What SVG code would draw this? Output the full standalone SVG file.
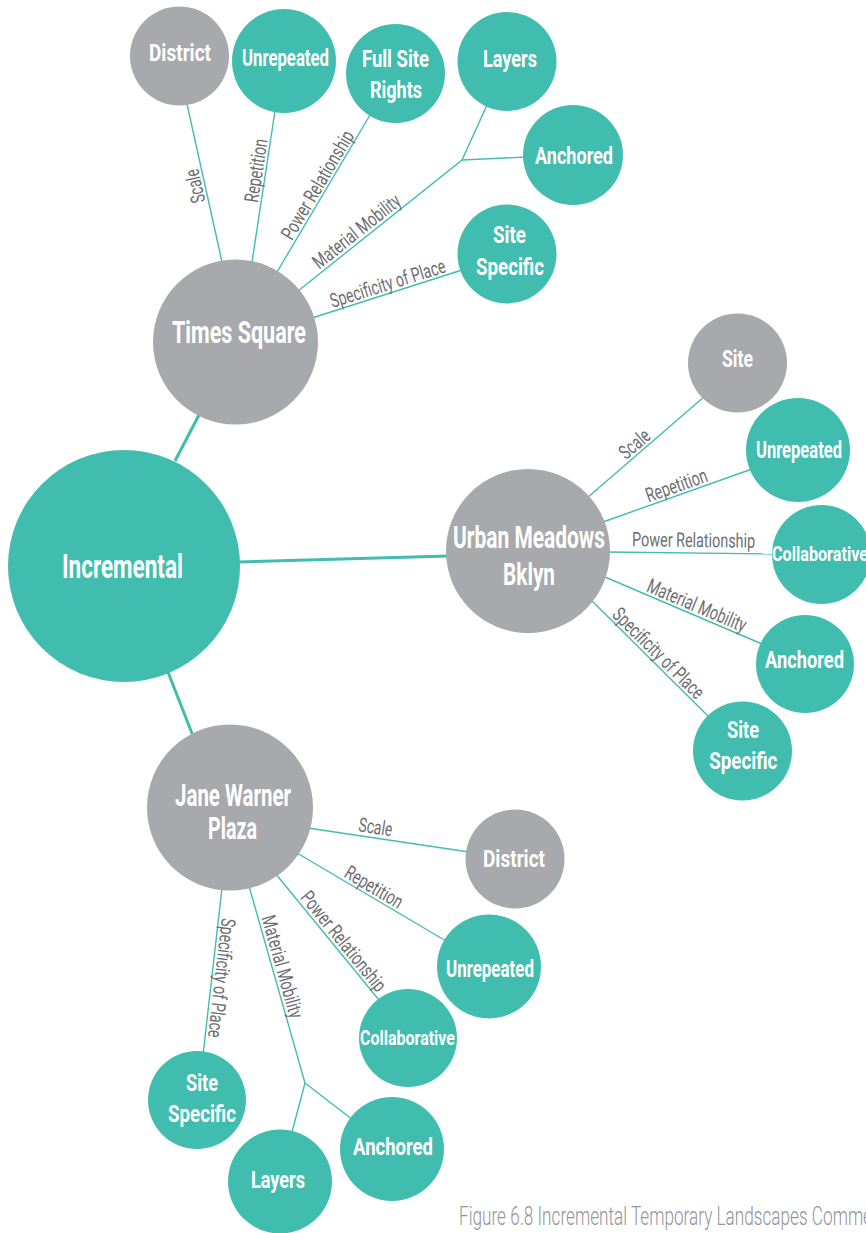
<svg xmlns="http://www.w3.org/2000/svg" width="866" height="1233" viewBox="0 0 866 1233">
<style>
.teal{fill:#41bdb0}
.gray{fill:#a7a9ac}
.ln{stroke:#41bdb0;stroke-width:1.4;fill:none}
.main{stroke:#41bdb0;stroke-width:3;fill:none}
.nt{font-family:Roboto,"Liberation Sans",sans-serif;font-weight:700;fill:#ffffff;text-anchor:middle;font-size:23.5px}
.big{font-size:30.5px}
.lb{font-family:Roboto,"Liberation Sans",sans-serif;font-weight:400;fill:#6d6e71;text-anchor:middle;font-size:20px}
.cap{font-family:Roboto,"Liberation Sans",sans-serif;font-weight:300;fill:#939598;font-size:25px}
</style>
<rect width="866" height="1233" fill="#ffffff"/>
<g id="connectors">
  <line class="main" x1="175" y1="461" x2="200" y2="413"/>
  <line class="main" x1="238" y1="562" x2="448" y2="556"/>
  <line class="main" x1="168" y1="672" x2="193" y2="736"/>
  <line class="ln" x1="222" y1="262" x2="187" y2="104"/>
  <line class="ln" x1="252" y1="262" x2="275" y2="111"/>
  <line class="ln" x1="277" y1="272" x2="370" y2="115"/>
  <polyline class="ln" points="298,291 462,160 487,105"/>
  <line class="ln" x1="462" y1="160" x2="526" y2="157"/>
  <line class="ln" x1="312" y1="318" x2="462" y2="270"/>
  <line class="ln" x1="587" y1="498" x2="705" y2="396"/>
  <line class="ln" x1="603" y1="522" x2="752" y2="469"/>
  <line class="ln" x1="608" y1="552" x2="774" y2="554"/>
  <line class="ln" x1="605" y1="577" x2="762" y2="644"/>
  <line class="ln" x1="591" y1="600" x2="709" y2="717"/>
  <line class="ln" x1="308" y1="828" x2="469" y2="852"/>
  <line class="ln" x1="297" y1="853" x2="446" y2="941"/>
  <line class="ln" x1="275" y1="873" x2="379" y2="1000"/>
  <polyline class="ln" points="249,886 305,1083 292,1132"/>
  <line class="ln" x1="305" y1="1083" x2="353" y2="1120"/>
  <line class="ln" x1="222" y1="888" x2="203" y2="1055"/>
</g>
<g id="labels">
  <text class="lb" transform="translate(204.7,184) rotate(-102.8)" y="-3" textLength="34" lengthAdjust="spacingAndGlyphs">Scale</text>
  <text class="lb" transform="translate(265.8,172) rotate(-81.1)" y="-3" textLength="64" lengthAdjust="spacingAndGlyphs">Repetition</text>
  <text class="lb" transform="translate(326,190) rotate(-59.3)" y="-3" textLength="123" lengthAdjust="spacingAndGlyphs">Power Relationship</text>
  <text class="lb" transform="translate(362.7,239) rotate(-38.5)" y="-3" textLength="106" lengthAdjust="spacingAndGlyphs">Material Mobility</text>
  <text class="lb" transform="translate(390.6,292.9) rotate(-17.5)" y="-3" textLength="120" lengthAdjust="spacingAndGlyphs">Specificity of Place</text>

  <text class="lb" transform="translate(640.9,451.4) rotate(-40.7)" y="-3" textLength="34" lengthAdjust="spacingAndGlyphs">Scale</text>
  <text class="lb" transform="translate(679.7,494.7) rotate(-19.4)" y="-3" textLength="64" lengthAdjust="spacingAndGlyphs">Repetition</text>
  <text class="lb" transform="translate(693.5,553) rotate(0.7)" y="-6" textLength="123" lengthAdjust="spacingAndGlyphs">Power Relationship</text>
  <text class="lb" transform="translate(693,614.5) rotate(23)" y="-3" textLength="106" lengthAdjust="spacingAndGlyphs">Material Mobility</text>
  <text class="lb" transform="translate(651.6,660.2) rotate(44.7)" y="-3" textLength="120" lengthAdjust="spacingAndGlyphs">Specificity of Place</text>

  <text class="lb" transform="translate(373.9,837.8) rotate(8.7)" y="-4" textLength="34" lengthAdjust="spacingAndGlyphs">Scale</text>
  <text class="lb" transform="translate(368.9,895.5) rotate(30.7)" y="-3" textLength="64" lengthAdjust="spacingAndGlyphs">Repetition</text>
  <text class="lb" transform="translate(335.9,947.4) rotate(50.9)" y="-3" textLength="123" lengthAdjust="spacingAndGlyphs">Power Relationship</text>
  <text class="lb" transform="translate(272.9,969.3) rotate(74.2)" y="-3" textLength="106" lengthAdjust="spacingAndGlyphs">Material Mobility</text>
  <text class="lb" transform="translate(211.9,976.9) rotate(96.6)" y="-3" textLength="120" lengthAdjust="spacingAndGlyphs">Specificity of Place</text>
</g>
<g id="incremental">
  <circle class="teal" cx="124" cy="566" r="116"/>
  <text class="nt" x="122.5" y="578" style="font-size:32.5px" textLength="121" lengthAdjust="spacingAndGlyphs">Incremental</text>
</g>
<g id="times-square">
  <circle class="gray" cx="235.5" cy="342" r="82.5"/>
  <text class="nt big" x="239" y="342.7" textLength="134" lengthAdjust="spacingAndGlyphs">Times Square</text>
</g>
<g id="ts-district">
  <circle class="gray" cx="179.5" cy="56" r="49.5"/>
  <text class="nt" x="180" y="60.7" textLength="62" lengthAdjust="spacingAndGlyphs">District</text>
</g>
<g id="ts-unrepeated">
  <circle class="teal" cx="284" cy="61" r="52"/>
  <text class="nt" x="285.5" y="65.7" textLength="87" lengthAdjust="spacingAndGlyphs">Unrepeated</text>
</g>
<g id="ts-full-site-rights">
  <circle class="teal" cx="395.5" cy="73.5" r="49.5"/>
  <text class="nt" x="395.5" y="66.7" textLength="67" lengthAdjust="spacingAndGlyphs">Full Site</text>
  <text class="nt" x="396" y="97.7" textLength="52" lengthAdjust="spacingAndGlyphs">Rights</text>
</g>
<g id="ts-layers">
  <circle class="teal" cx="507" cy="61.5" r="49.5"/>
  <text class="nt" x="510" y="66.7" textLength="54" lengthAdjust="spacingAndGlyphs">Layers</text>
</g>
<g id="ts-anchored">
  <circle class="teal" cx="573" cy="155" r="50"/>
  <text class="nt" x="574" y="163.5" textLength="78" lengthAdjust="spacingAndGlyphs">Anchored</text>
</g>
<g id="ts-site-specific">
  <circle class="teal" cx="507" cy="254" r="49.5"/>
  <text class="nt" x="509.5" y="243.3" textLength="33" lengthAdjust="spacingAndGlyphs">Site</text>
  <text class="nt" x="510" y="275" textLength="68" lengthAdjust="spacingAndGlyphs">Specific</text>
</g>
<g id="urban-meadows">
  <circle class="gray" cx="528" cy="551" r="82"/>
  <text class="nt big" x="529" y="548.3" textLength="152" lengthAdjust="spacingAndGlyphs">Urban Meadows</text>
  <text class="nt big" x="529" y="585" textLength="52" lengthAdjust="spacingAndGlyphs">Bklyn</text>
</g>
<g id="um-site">
  <circle class="gray" cx="737.5" cy="363" r="49.5"/>
  <text class="nt" x="737.5" y="367.3" textLength="31" lengthAdjust="spacingAndGlyphs">Site</text>
</g>
<g id="um-unrepeated">
  <circle class="teal" cx="798" cy="450" r="52"/>
  <text class="nt" x="799" y="458.3" textLength="86" lengthAdjust="spacingAndGlyphs">Unrepeated</text>
</g>
<g id="um-collaborative">
  <circle class="teal" cx="821.5" cy="554.5" r="49.5"/>
  <text class="nt" x="820" y="560.7" style="font-size:20.5px" textLength="96" lengthAdjust="spacingAndGlyphs">Collaborative</text>
</g>
<g id="um-anchored">
  <circle class="teal" cx="805" cy="664" r="49"/>
  <text class="nt" x="804.5" y="668.3" textLength="79" lengthAdjust="spacingAndGlyphs">Anchored</text>
</g>
<g id="um-site-specific">
  <circle class="teal" cx="742.5" cy="751" r="49.5"/>
  <text class="nt" x="743" y="738.3" textLength="32" lengthAdjust="spacingAndGlyphs">Site</text>
  <text class="nt" x="743.3" y="768.8" textLength="68" lengthAdjust="spacingAndGlyphs">Specific</text>
</g>
<g id="jane-warner-plaza">
  <circle class="gray" cx="230" cy="807.5" r="83"/>
  <text class="nt big" x="233" y="806" textLength="116" lengthAdjust="spacingAndGlyphs">Jane Warner</text>
  <text class="nt big" x="232.5" y="839" textLength="49" lengthAdjust="spacingAndGlyphs">Plaza</text>
</g>
<g id="jw-district">
  <circle class="gray" cx="515" cy="859" r="49.5"/>
  <text class="nt" x="514" y="867.3" textLength="62" lengthAdjust="spacingAndGlyphs">District</text>
</g>
<g id="jw-unrepeated">
  <circle class="teal" cx="489" cy="966.5" r="52"/>
  <text class="nt" x="490" y="977.3" textLength="88" lengthAdjust="spacingAndGlyphs">Unrepeated</text>
</g>
<g id="jw-collaborative">
  <circle class="teal" cx="408" cy="1038" r="49"/>
  <text class="nt" x="407.5" y="1045" style="font-size:20.5px" textLength="95" lengthAdjust="spacingAndGlyphs">Collaborative</text>
</g>
<g id="jw-site-specific">
  <circle class="teal" cx="197" cy="1100" r="49"/>
  <text class="nt" x="202" y="1090.7" textLength="32" lengthAdjust="spacingAndGlyphs">Site</text>
  <text class="nt" x="202" y="1121.7" textLength="68" lengthAdjust="spacingAndGlyphs">Specific</text>
</g>
<g id="jw-layers">
  <circle class="teal" cx="280" cy="1181.5" r="52"/>
  <text class="nt" x="278" y="1187.7" textLength="54" lengthAdjust="spacingAndGlyphs">Layers</text>
</g>
<g id="jw-anchored">
  <circle class="teal" cx="392" cy="1149" r="52"/>
  <text class="nt" x="393" y="1155" textLength="80" lengthAdjust="spacingAndGlyphs">Anchored</text>
</g>
<text class="cap" x="459" y="1225" textLength="413" lengthAdjust="spacingAndGlyphs">Figure 6.8 Incremental Temporary Landscapes Comme</text>
</svg>
